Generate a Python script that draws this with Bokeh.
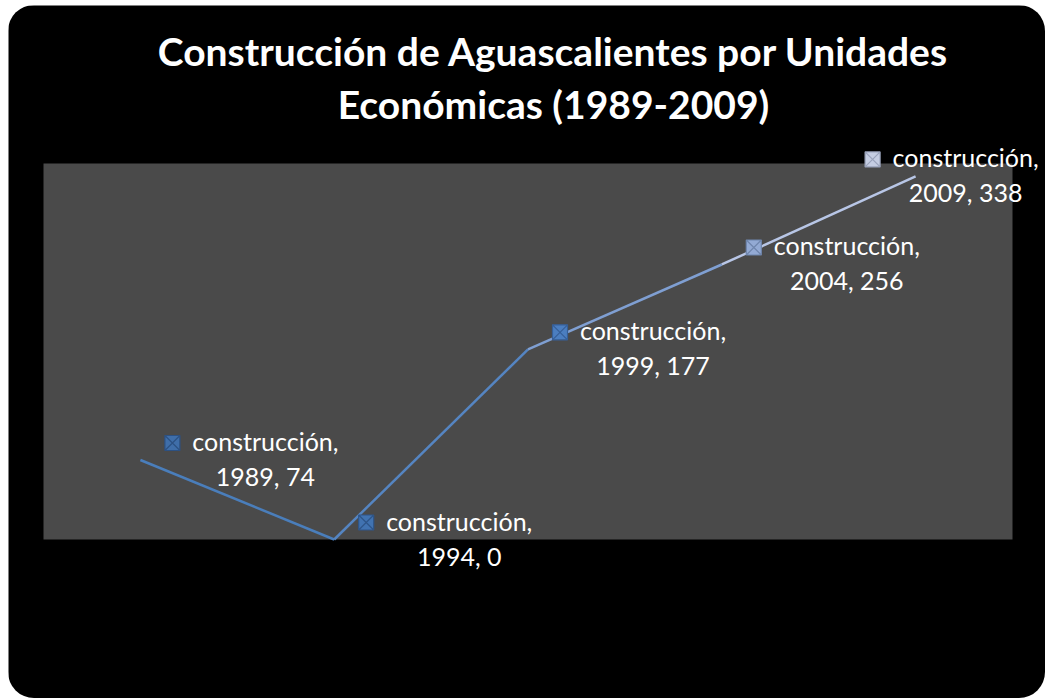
from bokeh.plotting import figure
from bokeh.models import Range1d, ColumnDataSource, Label
from bokeh.core.properties import value
from bokeh.embed import file_html
from bokeh.resources import INLINE

# ---- data ----
series_name = "construcción"
years = ["1989", "1994", "1999", "2004", "2009"]
values = [74, 0, 177, 256, 338]
title_line1 = "Construcción de Aguascalientes por Unidades"
title_line2 = "Económicas (1989-2009)"
y_max = 350

# ---- layout (pixels inside the figure) ----
FIG_W, FIG_H = 1037, 693
PLOT_L, PLOT_R, PLOT_T, PLOT_B = 35, 1004, 158, 534
n = len(years)
band = (PLOT_R - PLOT_L) / n
ppu_y = (PLOT_B - PLOT_T) / y_max

x_range = Range1d(-0.5 - PLOT_L / band, n - 0.5 + (FIG_W - PLOT_R) / band)
y_range = Range1d(-(FIG_H - PLOT_B) / ppu_y, y_max + PLOT_T / ppu_y)

p = figure(width=FIG_W, height=FIG_H, x_range=x_range, y_range=y_range,
           x_axis_type=None, y_axis_type=None, toolbar_location=None,
           output_backend="svg", min_border=0)
p.min_border_left = p.min_border_right = p.min_border_top = p.min_border_bottom = 0
p.background_fill_color = "black"
p.border_fill_color = "black"
p.outline_line_color = None
p.xgrid.visible = False
p.ygrid.visible = False
p.styles = {"border-radius": "26px", "overflow": "hidden",
            "margin-left": "8px", "margin-top": "5px"}

# plot area (gray)
p.quad(left=[-0.5], right=[n - 0.5], bottom=[0], top=[y_max],
       fill_color="#4a4a4a", line_color=None)

# line with gradient-like segment colours
xs = list(range(n))
seg_colors = ["#4a7ebb", "#5585c2", "#7f9fd2", "#b8c6e6"]
p.multi_line(xs=[[xs[i], xs[i + 1]] for i in range(n - 1)],
             ys=[[values[i], values[i + 1]] for i in range(n - 1)],
             line_color=seg_colors, line_width=2.5)

# label placement (pixels): last label pulled left so it fits
label_dx = [0, 0, 0, 0, -75]

# data label keys (legend-like markers)
mk_fill = ["#3f6ea9", "#4173b1", "#4b7ec0", "#93aad4", "#c5cde2"]
mk_line = ["#2c5183", "#2e5589", "#365f98", "#6f86ad", "#9aa3bb"]
src = ColumnDataSource(dict(
    x=[i + (32 + d) / band for i, d in zip(xs, label_dx)],
    y=[v + 17 / ppu_y for v in values],
    fill=mk_fill, line=mk_line,
))
p.scatter("x", "y", source=src, marker="square_x", size=15,
          fill_color="fill", line_color="line", line_width=1.2)

# data labels
lab = ColumnDataSource(dict(
    x=[i + d / band for i, d in zip(xs, label_dx)], y=values,
    l1=[series_name + "," for _ in years],
    l2=[f"{yr}, {v}" for yr, v in zip(years, values)],
))
for col, dy in (("l1", -19), ("l2", 16)):
    p.text("x", "y", text=col, source=lab, x_offset=125, y_offset=dy,
           text_align="center", text_baseline="alphabetic",
           text_font=value("Lato"), text_font_size="25px", text_color="white")

# title
for txt, y in ((title_line1, FIG_H - 45), (title_line2, FIG_H - 98)):
    p.add_layout(Label(x=545, y=y, x_units="screen", y_units="screen", text=txt,
                       text_align="center", text_baseline="alphabetic",
                       text_font="Lato", text_font_style="bold",
                       text_font_size="39px", text_color="white"))

open("out.html", "w").write(file_html(p, INLINE))
